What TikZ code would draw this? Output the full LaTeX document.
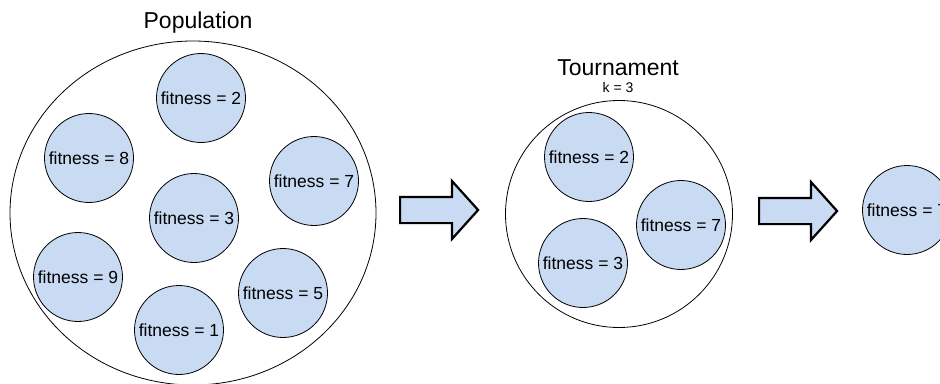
\documentclass[tikz,border=0pt]{standalone}
\usepackage{fontspec}
\setmainfont{Liberation Sans}
\usetikzlibrary{shapes.geometric,shapes.arrows}
\definecolor{memberblue}{RGB}{201,218,243}

\begin{document}
\begin{tikzpicture}[x=1pt,y=-1pt,
  member/.style={circle,draw,line width=0.8pt,fill=memberblue,minimum size=89pt,inner sep=0pt,font=\fontsize{17.5}{20}\selectfont},
  pool/.style={ellipse,draw,line width=0.8pt,inner sep=0pt},
  heading/.style={font=\fontsize{23}{26}\selectfont},
  bigarrow/.style={single arrow,draw,line width=2.2pt,fill=memberblue,minimum height=78pt,inner xsep=0pt,inner ysep=12pt,single arrow head extend=16pt,single arrow tip angle=96,anchor=tail}]
\useasboundingbox (0,0) rectangle (940,383);
% population
\node[pool,minimum width=366pt,minimum height=344pt] (pop) at (193,213) {};
\node[heading] (poptitle) at (198,23) {Population};
\node[member] (pfit2) at (201,98) {fitness = 2};
\node[member] (pfit8) at (89,158) {fitness = 8};
\node[member] (pfit7) at (314,181) {fitness = 7};
\node[member] (pfit3) at (194,218) {fitness = 3};
\node[member] (pfit9) at (78,277) {fitness = 9};
\node[member] (pfit1) at (179,330) {fitness = 1};
\node[member] (pfit5) at (283,293) {fitness = 5};
\node[bigarrow] (arrone) at (399,210) {};
% tournament
\node[pool,circle,minimum size=227pt] (tour) at (619,214) {};
\node[heading] (tourtitle) at (618,68) {Tournament};
\node[font=\fontsize{14}{16}\selectfont] (tourk) at (618,87) {k = 3};
\node[member] (tfit2) at (589,157) {fitness = 2};
\node[member] (tfit3) at (583,263) {fitness = 3};
\node[member] (tfit7) at (681,225) {fitness = 7};
\node[bigarrow] (arrtwo) at (758,211) {};
% winner
\node[member] (winner) at (907,210) {fitness = 7};
\end{tikzpicture}
\end{document}
